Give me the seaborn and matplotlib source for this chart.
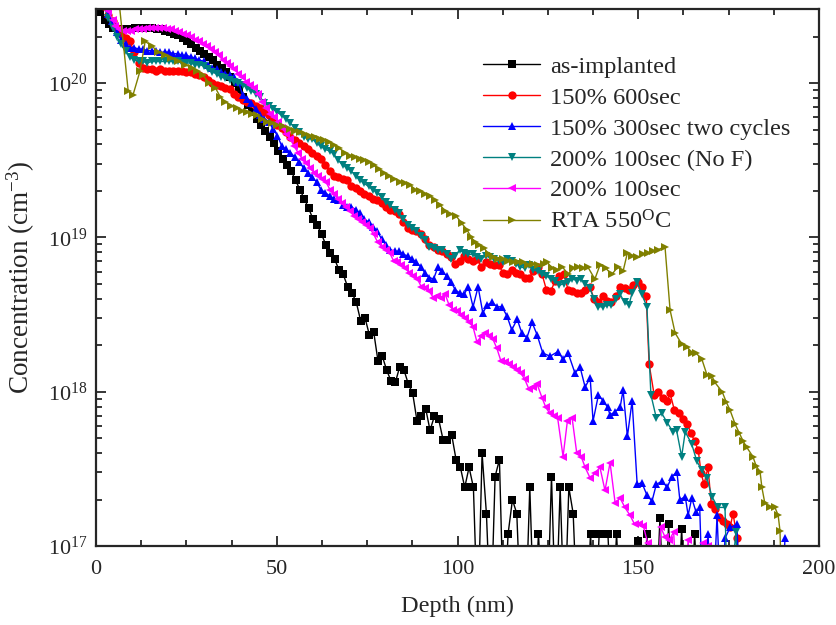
import numpy as np
import pandas as pd
import matplotlib
matplotlib.use("Agg")
import matplotlib.pyplot as plt
from matplotlib.ticker import AutoMinorLocator, LogLocator, LogFormatterMathtext, NullFormatter
import seaborn as sns

# ---------------- data (depth in nm, concentration as log10 of cm^-3) ----------------
series_names = ["as-implanted", "150% 600sec", "150% 300sec two cycles",
                "200% 100sec (No F)", "200% 100sec", "RTA 550$^{\\mathrm{O}}$C"]

as_implanted_depth = [0.3, 1.2, 2.4, 3.6, 4.8, 6.0, 7.2, 8.4, 9.6, 10.8, 12.0, 13.2, 14.4, 15.6, 16.8, 18.0,
    19.2, 20.4, 21.6, 22.8, 24.0, 25.2, 26.4, 27.6, 28.8, 30.0, 31.2, 32.4, 33.6, 34.8, 36.0, 37.2, 38.4,
    39.6, 40.8, 42.0, 43.2, 44.4, 45.6, 46.8, 48.0, 49.2, 50.4, 51.6, 52.8, 54.0, 55.2, 56.4, 57.6, 58.8,
    60.0, 61.2, 62.4, 63.6, 64.8, 66.0, 67.2, 68.4, 69.6, 70.8, 72.0, 73.2, 74.4, 75.6, 76.8, 78.0, 79.2,
    80.4, 81.6, 82.8, 84.0, 85.2, 86.4, 87.6, 88.8, 90.0, 91.2, 92.4, 93.6, 94.8, 96.0, 97.2, 98.4, 99.6,
    100.8, 102.0, 103.2, 104.4, 105.6, 106.8, 108.0, 109.2, 110.4, 111.6, 112.8, 114.0, 115.2, 116.4,
    117.6, 118.8, 120.0, 121.2, 122.4, 123.6, 124.8, 126.0, 127.2, 128.4, 129.6, 130.8, 132.0, 133.2,
    134.4, 135.6, 136.8, 138.0, 139.2, 140.4, 141.6, 142.8, 144.0, 145.2, 146.4, 147.6, 148.8, 150.0,
    151.2, 152.4, 153.6, 154.8, 156.0, 157.2, 158.4, 159.6, 160.8, 162.0, 163.2, 164.4, 165.6, 166.8, 168.0]
as_implanted_log = [20.60, 20.46, 20.41, 20.38, 20.36, 20.35, 20.35, 20.35, 20.35, 20.36, 20.36, 20.36, 20.36,
    20.36, 20.35, 20.35, 20.34, 20.33, 20.32, 20.31, 20.29, 20.27, 20.25, 20.23, 20.21, 20.19, 20.17, 20.15,
    20.12, 20.10, 20.07, 20.04, 20.00, 19.96, 19.91, 19.86, 19.81, 19.77, 19.73, 19.69, 19.65, 19.61, 19.56,
    19.51, 19.47, 19.43, 19.37, 19.31, 19.25, 19.19, 19.12, 19.08, 19.02, 18.95, 18.90, 18.86, 18.79, 18.76,
    18.68, 18.64, 18.58, 18.46, 18.48, 18.37, 18.39, 18.20, 18.23, 18.14, 18.07, 18.06, 18.16, 18.14, 18.05,
    17.99, 17.81, 17.84, 17.89, 17.75, 17.84, 17.82, 17.69, 17.69, 17.72, 17.56, 17.51, 17.38, 17.51, 17.38,
    16.5, 17.60, 17.21, 16.5, 17.45, 17.56, 16.5, 17.08, 17.30, 17.21, 16.5, 16.5, 17.38, 16.5, 17.08, 16.5,
    16.5, 17.45, 16.5, 17.38, 16.5, 17.38, 17.21, 16.5, 16.5, 16.5, 17.08, 16.5, 17.08, 17.08, 17.08, 16.5,
    17.08, 16.5, 16.5, 16.5, 16.5, 17.03, 16.5, 17.08, 16.5, 16.5, 17.18, 16.5, 17.14, 16.5, 16.5, 17.11,
    16.5, 16.5, 17.08, 16.5, 16.5]

r600_depth = [1.0, 2.2, 3.4, 4.6, 5.8, 7.0, 8.2, 9.4, 10.6, 11.8, 13.0, 14.2, 15.4, 16.6, 17.8, 19.0, 20.2,
    21.4, 22.6, 23.8, 25.0, 26.2, 27.4, 28.6, 29.8, 31.0, 32.2, 33.4, 34.6, 35.8, 37.0, 38.2, 39.4, 40.6,
    41.8, 43.0, 44.2, 45.4, 46.6, 47.8, 49.0, 50.2, 51.4, 52.6, 53.8, 55.0, 56.2, 57.4, 58.6, 59.8, 61.0,
    62.2, 63.4, 64.6, 65.8, 67.0, 68.2, 69.4, 70.6, 71.8, 73.0, 74.2, 75.4, 76.6, 77.8, 79.0, 80.2, 81.4,
    82.6, 83.8, 85.0, 86.2, 87.4, 88.6, 89.8, 91.0, 92.2, 93.4, 94.6, 95.8, 97.0, 98.2, 99.4, 100.6, 101.8,
    103.0, 104.2, 105.4, 106.6, 107.8, 109.0, 110.2, 111.4, 112.6, 113.8, 115.0, 116.2, 117.4, 118.6, 119.8,
    121.0, 122.2, 123.4, 124.6, 125.8, 127.0, 128.2, 129.4, 130.6, 131.8, 133.0, 134.2, 135.4, 136.6, 137.8,
    139.0, 140.2, 141.4, 142.6, 143.8, 145.0, 146.2, 147.4, 148.6, 149.8, 151.0, 152.2, 153.0, 154.4, 155.6,
    156.8, 158.0, 158.8, 160.0, 161.2, 162.4, 163.6, 164.6, 165.6, 166.6, 167.4, 168.2, 169.3, 170.2, 171.2,
    172.4, 173.4, 174.6, 175.4, 176.2, 177.4, 178.7]
r600_log = [20.60, 20.50, 20.44, 20.40, 20.36, 20.32, 20.29, 20.27, 20.20, 20.13, 20.10, 20.09, 20.09, 20.08,
    20.09, 20.08, 20.08, 20.08, 20.08, 20.08, 20.07, 20.07, 20.06, 20.05, 20.04, 20.02, 20.00, 19.99, 19.98,
    19.97, 19.96, 19.93, 19.91, 19.89, 19.88, 19.87, 19.85, 19.84, 19.81, 19.79, 19.76, 19.73, 19.71, 19.68,
    19.65, 19.63, 19.61, 19.59, 19.57, 19.55, 19.53, 19.51, 19.47, 19.43, 19.40, 19.39, 19.38, 19.37, 19.33,
    19.32, 19.30, 19.28, 19.27, 19.25, 19.24, 19.22, 19.20, 19.18, 19.17, 19.15, 19.10, 19.06, 19.05, 19.04,
    19.02, 18.99, 18.95, 18.94, 18.92, 18.91, 18.89, 18.87, 18.83, 18.85, 18.88, 18.86, 18.85, 18.86, 18.81,
    18.84, 18.83, 18.82, 18.82, 18.77, 18.76, 18.79, 18.77, 18.76, 18.74, 18.74, 18.78, 18.81, 18.76, 18.66,
    18.65, 18.72, 18.75, 18.76, 18.66, 18.65, 18.64, 18.64, 18.66, 18.68, 18.60, 18.58, 18.62, 18.59, 18.58,
    18.62, 18.68, 18.67, 18.66, 18.69, 18.71, 18.68, 18.62, 18.18, 17.98, 18.00, 17.96, 17.94, 17.99, 17.88,
    17.86, 17.82, 17.79, 17.73, 17.68, 17.62, 17.47, 17.40, 17.51, 17.27, 17.24, 17.19, 17.16, 17.14, 17.12,
    17.21, 17.05, 16.5]

r300_depth = [1.0, 2.2, 3.4, 4.4, 5.8, 7.0, 8.2, 9.4, 10.6, 11.8, 13.0, 14.2, 15.4, 16.6, 17.8, 19.0, 20.2,
    21.4, 22.6, 23.8, 25.0, 26.2, 27.4, 28.6, 29.8, 31.0, 32.2, 33.4, 34.6, 35.8, 37.0, 38.2, 39.4, 40.6,
    41.8, 43.0, 44.2, 45.4, 46.6, 47.8, 49.0, 50.2, 51.4, 52.6, 53.8, 55.0, 56.2, 57.4, 58.6, 59.8, 61.0,
    62.2, 63.4, 64.6, 65.8, 67.0, 68.2, 69.4, 70.6, 71.8, 73.0, 74.2, 75.4, 76.6, 77.8, 79.0, 80.2, 81.4,
    82.6, 83.8, 85.0, 86.2, 87.4, 88.6, 89.8, 91.0, 92.2, 93.4, 94.6, 95.8, 97.0, 98.2, 99.4, 100.6, 101.8,
    103.0, 104.3, 105.7, 107.0, 108.2, 109.5, 111.0, 112.3, 113.7, 115.0, 116.5, 117.8, 119.2, 120.6, 122.0,
    123.6, 125.6, 127.8, 129.2, 130.6, 132.5, 133.9, 135.3, 136.7, 137.5, 139.0, 140.3, 141.5, 142.2, 143.6,
    145.0, 145.8, 147.0, 148.3, 149.7, 151.0, 152.4, 153.8, 155.0, 156.6, 158.0, 159.3, 160.7, 161.5, 163.0,
    163.8, 164.8, 166.0, 167.0, 168.0, 169.3, 170.5, 171.8, 173.0, 174.0, 175.4, 177.3, 178.3, 189.4, 190.6]
r300_log = [20.60, 20.52, 20.45, 20.40, 20.33, 20.28, 20.25, 20.23, 20.23, 20.22, 20.22, 20.21, 20.21, 20.21,
    20.20, 20.20, 20.20, 20.19, 20.19, 20.18, 20.18, 20.17, 20.16, 20.15, 20.14, 20.12, 20.10, 20.09, 20.07,
    20.06, 20.05, 20.04, 20.01, 19.92, 19.90, 19.87, 19.83, 19.79, 19.77, 19.75, 19.70, 19.66, 19.59, 19.57,
    19.55, 19.52, 19.49, 19.45, 19.42, 19.39, 19.36, 19.31, 19.29, 19.27, 19.25, 19.24, 19.21, 19.20, 19.20,
    19.18, 19.16, 19.12, 19.10, 19.07, 19.04, 18.99, 18.95, 18.92, 18.91, 18.91, 18.89, 18.88, 18.86, 18.84,
    18.81, 18.77, 18.74, 18.73, 18.81, 18.78, 18.75, 18.71, 18.66, 18.64, 18.63, 18.68, 18.55, 18.68, 18.51,
    18.56, 18.58, 18.55, 18.55, 18.49, 18.40, 18.47, 18.38, 18.35, 18.45, 18.37, 18.25, 18.23, 18.26, 18.21,
    18.25, 18.12, 18.16, 18.03, 18.09, 17.81, 17.98, 17.94, 17.90, 17.85, 17.87, 17.90, 18.01, 17.71, 17.94,
    17.40, 17.41, 17.33, 17.29, 17.40, 17.42, 17.38, 17.45, 17.48, 17.30, 17.32, 17.20, 17.31, 17.22, 17.25,
    16.5, 17.08, 16.5, 17.20, 16.5, 17.05, 17.12, 17.14, 16.5, 16.5, 17.05]

nof_depth = [1.0, 2.2, 3.4, 4.6, 5.8, 7.0, 8.2, 9.4, 10.6, 11.8, 13.0, 14.2, 15.4, 16.6, 17.8, 19.0, 20.2,
    21.4, 22.6, 23.8, 25.0, 26.2, 27.4, 28.6, 29.8, 31.0, 32.2, 33.4, 34.6, 35.8, 37.0, 38.2, 39.4, 40.6,
    41.8, 43.0, 44.2, 45.4, 46.6, 47.8, 49.0, 50.2, 51.4, 52.6, 53.8, 55.0, 56.2, 57.4, 58.6, 59.8, 61.0,
    62.2, 63.4, 64.6, 65.8, 67.0, 68.2, 69.4, 70.6, 71.8, 73.0, 74.2, 75.4, 76.6, 77.8, 79.0, 80.2, 81.4,
    82.6, 83.8, 85.0, 86.2, 87.4, 88.6, 89.8, 91.0, 92.2, 93.4, 94.6, 95.8, 97.0, 98.2, 99.4, 100.6, 101.8,
    103.0, 104.2, 105.4, 106.6, 107.8, 109.0, 110.2, 111.4, 112.6, 113.8, 115.0, 116.2, 117.4, 118.6, 119.8,
    121.0, 122.2, 123.4, 124.6, 125.8, 127.0, 128.2, 129.4, 130.6, 131.8, 133.0, 134.2, 135.4, 136.6, 137.8,
    139.0, 140.2, 141.4, 142.6, 143.8, 145.0, 146.2, 147.4, 148.3, 149.7, 151.0, 152.4, 153.5, 155.0, 156.5,
    158.0, 159.6, 160.6, 162.0, 163.0, 164.8, 166.2, 167.6, 169.0, 170.4, 172.0, 174.0, 174.8, 177.0, 178.2]
nof_log = [20.60, 20.50, 20.42, 20.36, 20.30, 20.25, 20.21, 20.17, 20.15, 20.14, 20.14, 20.13, 20.14, 20.14,
    20.14, 20.14, 20.14, 20.14, 20.14, 20.13, 20.13, 20.13, 20.12, 20.12, 20.11, 20.09, 20.07, 20.06, 20.04,
    20.03, 20.02, 20.01, 20.00, 19.99, 19.97, 19.95, 19.93, 19.91, 19.87, 19.85, 19.83, 19.81, 19.79, 19.77,
    19.74, 19.71, 19.68, 19.65, 19.64, 19.64, 19.61, 19.59, 19.57, 19.56, 19.54, 19.50, 19.47, 19.45, 19.43,
    19.40, 19.37, 19.35, 19.33, 19.31, 19.29, 19.26, 19.23, 19.21, 19.18, 19.16, 19.12, 19.08, 19.06, 19.04,
    19.01, 18.98, 18.94, 18.93, 18.92, 18.92, 18.89, 18.86, 18.88, 18.92, 18.90, 18.89, 18.89, 18.87, 18.86,
    18.88, 18.87, 18.86, 18.85, 18.84, 18.86, 18.85, 18.83, 18.81, 18.80, 18.82, 18.79, 18.78, 18.76, 18.75,
    18.73, 18.72, 18.69, 18.70, 18.71, 18.73, 18.72, 18.73, 18.70, 18.67, 18.60, 18.55, 18.55, 18.56, 18.56,
    18.60, 18.63, 18.58, 18.56, 18.64, 18.71, 18.63, 18.55, 17.98, 17.83, 17.86, 17.80, 17.74, 17.75, 17.58,
    17.74, 17.66, 17.55, 17.49, 17.44, 17.32, 17.25, 17.25, 16.5, 17.09, 16.5]

s200_depth = [1.0, 2.2, 3.4, 4.6, 5.3, 6.4, 7.5, 8.6, 9.7, 10.8, 11.9, 13.0, 14.1, 15.2, 16.3, 17.4, 18.5,
    19.6, 20.7, 21.8, 22.9, 24.0, 25.1, 26.2, 27.3, 28.4, 29.5, 30.6, 31.7, 32.8, 33.9, 35.0, 36.1, 37.2,
    38.3, 39.4, 40.5, 41.6, 42.7, 43.8, 44.9, 46.0, 47.1, 48.2, 49.3, 50.4, 51.5, 52.6, 53.7, 54.8, 55.9,
    57.0, 58.1, 59.2, 60.3, 61.4, 62.5, 63.6, 64.7, 65.8, 66.9, 68.0, 69.1, 70.2, 71.3, 72.4, 73.5, 74.6,
    75.7, 76.8, 77.9, 79.0, 80.1, 81.2, 82.3, 83.4, 84.5, 85.6, 86.7, 87.8, 88.9, 90.0, 91.1, 92.2, 93.3,
    94.4, 95.5, 96.6, 97.7, 98.8, 99.9, 101.0, 102.1, 103.2, 104.3, 105.4, 106.5, 107.6, 108.7, 109.8, 110.9,
    112.0, 113.1, 114.2, 115.3, 116.4, 117.5, 118.6, 119.7, 120.8, 122.0, 123.4, 124.4, 125.5, 126.6, 127.7,
    129.2, 130.4, 131.7, 133.0, 134.2, 135.3, 136.7, 138.0, 139.4, 140.8, 142.2, 143.6, 145.0, 146.3, 147.7,
    149.0, 150.2, 151.4, 152.6, 153.8, 155.0, 156.2, 157.4, 158.6, 159.8, 161.0, 162.4, 163.8, 165.0, 166.4,
    167.8, 169.2, 170.4]
s200_log = [20.65, 20.55, 20.47, 20.41, 20.37, 20.35, 20.34, 20.34, 20.34, 20.35, 20.35, 20.35, 20.36, 20.36,
    20.36, 20.36, 20.36, 20.35, 20.35, 20.34, 20.33, 20.32, 20.31, 20.30, 20.28, 20.27, 20.25, 20.24, 20.22,
    20.20, 20.18, 20.15, 20.13, 20.11, 20.09, 20.06, 20.04, 20.01, 19.99, 19.97, 19.93, 19.88, 19.84, 19.80,
    19.78, 19.75, 19.71, 19.67, 19.64, 19.59, 19.55, 19.51, 19.48, 19.45, 19.42, 19.40, 19.38, 19.36, 19.31,
    19.28, 19.25, 19.22, 19.20, 19.17, 19.14, 19.12, 19.10, 19.08, 19.06, 19.02, 18.97, 18.94, 18.92, 18.90,
    18.85, 18.84, 18.82, 18.80, 18.77, 18.75, 18.73, 18.68, 18.67, 18.65, 18.61, 18.62, 18.61, 18.63, 18.56,
    18.53, 18.52, 18.50, 18.48, 18.45, 18.42, 18.32, 18.36, 18.38, 18.36, 18.34, 18.28, 18.20, 18.19, 18.18,
    18.16, 18.14, 18.12, 18.08, 18.02, 18.03, 18.05, 17.96, 17.90, 17.86, 17.84, 17.83, 17.58, 17.81, 17.83,
    17.60, 17.58, 17.51, 17.44, 17.47, 17.51, 17.36, 17.54, 17.28, 17.31, 17.25, 17.20, 17.14, 17.14, 17.13,
    17.02, 16.5, 16.5, 17.12, 17.06, 17.04, 17.09, 16.5, 16.5, 17.04, 16.5, 16.5, 17.02, 17.00, 16.5]

rta_depth = [0.5, 2.5, 4.5, 6.5, 8.9, 10.2, 12.2, 13.6, 15.5, 17.2, 19.0, 20.8, 22.7, 24.6, 26.5, 28.0, 29.6,
    31.3, 33.0, 34.4, 35.7, 37.4, 39.0, 40.4, 41.8, 43.2, 44.5, 46.0, 47.3, 48.7, 50.0, 51.8, 53.7, 55.0,
    56.4, 57.8, 59.2, 60.6, 62.0, 63.2, 64.4, 65.8, 67.2, 68.8, 70.3, 71.6, 73.0, 74.2, 75.5, 76.8, 78.2,
    79.6, 81.0, 82.5, 84.0, 85.4, 86.9, 88.3, 89.6, 91.0, 92.4, 93.8, 95.2, 96.6, 98.0, 99.6, 101.2, 102.6,
    103.8, 104.8, 106.0, 107.4, 108.6, 109.8, 111.2, 112.6, 114.0, 115.4, 116.8, 118.2, 119.6, 121.0, 122.4,
    123.8, 124.8, 126.2, 127.5, 129.0, 130.6, 132.0, 133.4, 134.8, 136.0, 138.0, 139.4, 141.0, 142.7, 144.4,
    145.8, 147.0, 148.4, 149.7, 151.2, 152.7, 154.2, 155.5, 157.4, 158.8, 160.2, 162.0, 163.5, 165.0, 166.0,
    167.6, 169.0, 170.4, 171.2, 173.2, 174.4, 175.4, 176.8, 178.0, 179.0, 180.0, 181.7, 182.6, 183.7, 184.2,
    185.0, 186.4, 187.8, 188.7, 189.2, 190.0]
rta_log = [20.70, 20.62, 20.56, 20.50, 19.95, 19.92, 20.08, 20.27, 20.24, 20.20, 20.18, 20.16, 20.14, 20.12,
    20.10, 20.08, 20.05, 20.00, 19.97, 19.91, 19.88, 19.85, 19.84, 19.82, 19.81, 19.80, 19.79, 19.77, 19.75,
    19.74, 19.73, 19.72, 19.70, 19.69, 19.68, 19.67, 19.66, 19.65, 19.64, 19.63, 19.62, 19.60, 19.58, 19.55,
    19.53, 19.52, 19.51, 19.50, 19.49, 19.47, 19.44, 19.42, 19.40, 19.38, 19.36, 19.35, 19.34, 19.31, 19.30,
    19.28, 19.27, 19.24, 19.21, 19.17, 19.15, 19.14, 19.09, 19.05, 19.00, 18.97, 18.95, 18.93, 18.89, 18.87,
    18.86, 18.86, 18.85, 18.84, 18.84, 18.84, 18.82, 18.83, 18.82, 18.83, 18.84, 18.80, 18.79, 18.81, 18.76,
    18.80, 18.81, 18.80, 18.81, 18.73, 18.82, 18.80, 18.76, 18.81, 18.78, 18.90, 18.88, 18.87, 18.89, 18.90,
    18.91, 18.92, 18.94, 18.53, 18.38, 18.31, 18.29, 18.25, 18.25, 18.21, 18.11, 18.10, 18.06, 18.00, 17.93,
    17.88, 17.79, 17.73, 17.68, 17.64, 17.58, 17.52, 17.48, 17.38, 17.28, 17.25, 17.25, 17.20, 17.10, 16.5]

colors = ["#000000", "#FF0000", "#0000FF", "#008080", "#FF00FF", "#808000"]
markers = ["s", "o", "^", "v", "<", ">"]

# ---------------- build long-form table ----------------
depths = [as_implanted_depth, r600_depth, r300_depth, nof_depth, s200_depth, rta_depth]
logs = [as_implanted_log, r600_log, r300_log, nof_log, s200_log, rta_log]
frames = []
for name, d, lg in zip(series_names, depths, logs):
    frames.append(pd.DataFrame({"depth": d, "conc": 10.0 ** np.asarray(lg), "series": name}))
df = pd.concat(frames, ignore_index=True)

sns.set_style("ticks")
plt.rcParams["font.family"] = ["Liberation Serif", "DejaVu Serif"]
plt.rcParams["mathtext.fontset"] = "custom"
plt.rcParams["mathtext.rm"] = "Liberation Serif"
plt.rcParams["mathtext.it"] = "Liberation Serif:italic"
plt.rcParams["mathtext.bf"] = "Liberation Serif:bold"

fig = plt.figure(figsize=(8.36, 6.25), dpi=100)
ax = fig.add_axes([96 / 836, 79 / 625, 723 / 836, 537 / 625])

sns.lineplot(data=df, x="depth", y="conc", hue="series", style="series",
             hue_order=series_names, style_order=series_names,
             palette=dict(zip(series_names, colors)),
             markers=dict(zip(series_names, markers)), dashes=False,
             estimator=None, errorbar=None, sort=False,
             linewidth=1.0, markersize=6, markeredgewidth=0, ax=ax)

ax.set_yscale("log")
ax.set_xlim(0, 200)
ax.set_ylim(1e17, 10 ** 20.48)
ax.set_xticks([0, 50, 100, 150, 200])
ax.xaxis.set_minor_locator(AutoMinorLocator(4))
ax.yaxis.set_major_locator(LogLocator(base=10, numticks=10))
ax.yaxis.set_major_formatter(LogFormatterMathtext())
ax.yaxis.set_minor_locator(LogLocator(base=10, subs=np.arange(2, 10), numticks=20))
ax.yaxis.set_minor_formatter(NullFormatter())

ax.tick_params(which="both", direction="in", top=True, right=True, width=1.3, labelsize=16)
ax.tick_params(which="major", length=7)
ax.tick_params(which="minor", length=4)
ax.tick_params(axis="x", pad=10)
ax.tick_params(axis="y", pad=6)
for sp in ax.spines.values():
    sp.set_linewidth(1.6)
    sp.set_visible(True)

ax.set_xlabel("Depth (nm)", fontsize=17.5, labelpad=12)
ax.set_ylabel("Concentration (cm$^{-3}$)", fontsize=19.5, labelpad=8)

handles, labels = ax.get_legend_handles_labels()
ax.legend(handles, labels, loc="upper left", bbox_to_anchor=(0.535, 0.913),
          frameon=False, fontsize=17.6, handlelength=2.35, handletextpad=0.4,
          labelspacing=0.36, borderaxespad=0, borderpad=0)

fig.savefig("out.png", dpi=100)
